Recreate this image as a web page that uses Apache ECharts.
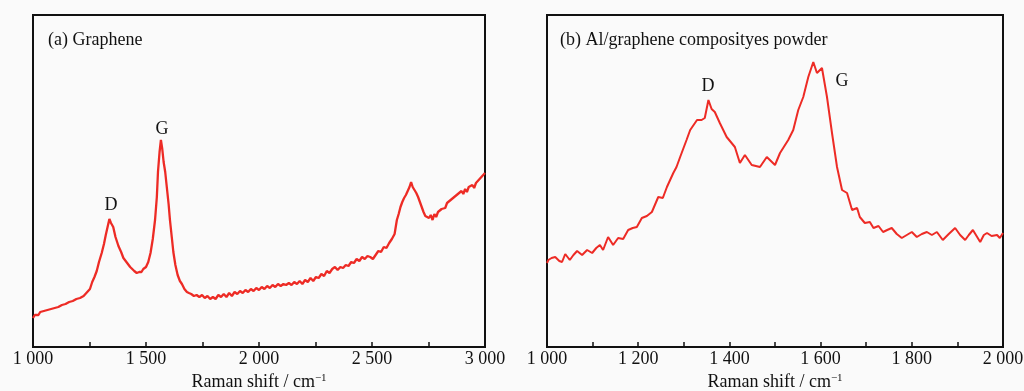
<!DOCTYPE html>
<html>
<head>
<meta charset="utf-8">
<script src="https://cdn.jsdelivr.net/npm/echarts@6/dist/echarts.min.js"></script>
<style>
  html, body { margin: 0; padding: 0; background: #fafafa; }
  #chart { width: 1024px; height: 391px; }
</style>
</head>
<body>
<div id="chart"></div>
<script>
// (a) Graphene: Raman shift (cm-1) and intensity (a.u.)
const shiftA = [1000,1008,1016,1024,1032,1040,1048,1056,1064,1072,1080,1088,1096,1104,1112,1120,1128,1136,1144,1152,1160,1168,1176,1184,1192,1200,1208,1216,1224,1232,1240,
  1252,1262,1272,1282,1292,1304,1314,1322,1330,1338,1345,1355,1365,1378,1390,1400,1407,1420,1430,1437,1448,1459,1470,1480,1488,1500,1510,1520,1530,1540,1548,1553,1560,1566,1572,1578,1585,1592,1600,1606,1614,1621,1630,1640,1650,1659,1670,1681,1690,
  1700,1712,1724,1736,1748,1760,1772,1784,1796,1808,1820,1832,1844,1856,1868,1880,1892,1904,1916,1928,1940,1952,1964,1976,1988,2000,2012,2024,2036,2048,2060,2072,2084,2096,2108,2120,2132,2144,2156,2168,2180,2192,2204,2216,2228,2240,2252,2264,2276,2288,2300,2312,2324,2336,2348,2360,2372,2384,2396,2408,2420,2432,2444,2456,2468,2480,2492,2504,2516,2528,2540,2552,2564,2576,2588,2600,
  2610,2618,2626,2634,2642,2650,2658,2666,2673,
  2680,2688,2696,2704,2712,2720,2728,2736,2744,2752,2760,2768,2776,2784,2792,2800,2808,2816,2824,2832,2840,2848,2856,2864,2872,2880,2888,2896,2904,2912,2920,2928,2936,2944,2952,2960,2968,2976,2984,2992,3000]
const intensityA = [29,32,34,32,35,33,36,35,37,36,38,37,39,38,40,39,42,40,43,42,45,43,46,45,48,47,49,48,51,52,55,
  58,65,70,76,85,94,103,112,120,128,124,120,110,101,95,89,88,83,80,78,76,74,75,75,78,80,85,94,108,127,150,175,195,207,198,185,175,160,143,127,110,95,82,72,66,63,58,55,54,
  53,51,52,50,52,49,51,48,50,48,52,50,53,50,54,51,55,53,56,54,57,55,58,56,59,57,60,58,61,59,62,60,63,61,63,62,64,62,65,63,66,63,67,65,69,66,70,69,73,71,76,74,78,80,77,80,79,82,81,85,84,88,86,90,88,91,90,88,92,96,95,100,99,104,108,113,
  127,133,140,145,149,152,156,160,165,
  160,157,154,150,145,140,135,131,133,129,132,127,133,130,135,134,138,140,139,144,142,147,145,150,148,153,151,156,153,158,155,160,158,162,159,164,162,168,166,172,174]

// (b) Al/graphene composite powder
const shiftB = [1000,1003,1010,1018,1027,1033,1040,1050,1058,1066,1077,1088,1099,1108,1116,1123,1134,1145,1156,1167,1178,1188,1197,1208,1219,1230,1244,1254,1263,1270,1277,1284,1292,1306,1314,1329,1339,1346,1354,1361,1368,1379,1394,1412,1423,1434,1449,1467,1482,1500,1511,1529,1540,1551,1562,1573,1584,1592,1603,1614,1625,1636,1647,1658,1669,1680,1686,1697,1708,1716,1727,1737,1746,1756,1767,1778,1789,1800,1811,1822,1833,1844,1855,1868,1881,1895,1906,1917,1925,1934,1942,1950,1958,1965,1975,1987,1993,2000]
const intensityB = [84,87,89,90,86,85,93,87,92,96,92,97,94,99,102,97,110,102,109,108,117,119,120,129,131,135,150,149,160,167,174,180,190,207,217,227,227,229,247,238,235,224,210,200,184,192,182,180,190,182,194,207,217,237,250,270,285,274,279,250,214,180,157,154,137,139,130,124,125,119,121,115,117,119,113,109,112,115,110,113,115,112,115,107,113,119,112,107,112,117,111,105,112,114,111,112,109,114]

const TICK_LABEL_STEP_A = 500
const TICK_LABEL_STEP_B = 200

const FONT = '"Liberation Serif", "DejaVu Serif", serif'
const RED = '#ed2b25'
const INK = '#111'

const fmt = v => {
  const s = String(v)
  return s.length > 3 ? s.slice(0, s.length - 3) + ' ' + s.slice(-3) : s
}

const pairs = (xs, ys) => xs.map((x, i) => [x, ys[i]])

const xAxisBase = (gridIndex, interval, step) => ({
  type: 'value', gridIndex,
  min: 1000, interval,
  axisLine: { show: true, lineStyle: { color: INK, width: 2 } },
  axisTick: { show: true, inside: true, length: 5, lineStyle: { color: INK, width: 1.5 } },
  splitLine: { show: false },
  axisLabel: {
    color: INK, fontFamily: FONT, fontSize: 18, margin: 3,
    showMinLabel: true, showMaxLabel: true,
    formatter: v => (v % step === 0 ? fmt(v) : ''),
  },
  name: 'Raman shift / cm{sup|\u22121}',
  nameLocation: 'middle', nameGap: 25,
  nameTextStyle: {
    color: INK, fontFamily: FONT, fontSize: 18,
    rich: { sup: { fontFamily: FONT, fontSize: 11, verticalAlign: 'top', color: INK } },
  },
})

const gridBase = { top: 15, bottom: 44, show: true, borderColor: INK, borderWidth: 2, backgroundColor: 'transparent', containLabel: false, outerBoundsMode: 'none' }

const chart = echarts.init(document.getElementById('chart'), null, { renderer: 'canvas' })
chart.setOption({
  animation: false,
  backgroundColor: '#fafafa',
  grid: [
    { ...gridBase, left: 33, right: 539 },
    { ...gridBase, left: 547, right: 21 },
  ],
  xAxis: [
    { ...xAxisBase(0, 250, TICK_LABEL_STEP_A), max: 3000 },
    { ...xAxisBase(1, 100, TICK_LABEL_STEP_B), max: 2000 },
  ],
  yAxis: [
    { type: 'value', gridIndex: 0, min: 0, max: 332, show: false },
    { type: 'value', gridIndex: 1, min: 0, max: 332, show: false },
  ],
  series: [
    {
      name: 'Graphene', type: 'line', xAxisIndex: 0, yAxisIndex: 0,
      data: pairs(shiftA, intensityA), showSymbol: false,
      lineStyle: { color: RED, width: 2.3 }, itemStyle: { color: RED },
    },
    {
      name: 'Al/graphene', type: 'line', xAxisIndex: 1, yAxisIndex: 1,
      data: pairs(shiftB, intensityB), showSymbol: false,
      lineStyle: { color: RED, width: 2 }, itemStyle: { color: RED },
    },
  ],
  graphic: [
    { type: 'text', left: 48, top: 31, style: { text: '(a) Graphene', font: `18px ${FONT}`, fill: INK } },
    { type: 'text', left: 560, top: 31, style: { text: '(b) Al/graphene composityes powder', font: `18px ${FONT}`, fill: INK } },
    { type: 'text', x: 111, y: 205, style: { text: 'D', font: `18px ${FONT}`, fill: INK, align: 'center', verticalAlign: 'middle' } },
    { type: 'text', x: 162, y: 129, style: { text: 'G', font: `18px ${FONT}`, fill: INK, align: 'center', verticalAlign: 'middle' } },
    { type: 'text', x: 708, y: 86, style: { text: 'D', font: `18px ${FONT}`, fill: INK, align: 'center', verticalAlign: 'middle' } },
    { type: 'text', x: 842, y: 81, style: { text: 'G', font: `18px ${FONT}`, fill: INK, align: 'center', verticalAlign: 'middle' } },
  ],
})
</script>
</body>
</html>
